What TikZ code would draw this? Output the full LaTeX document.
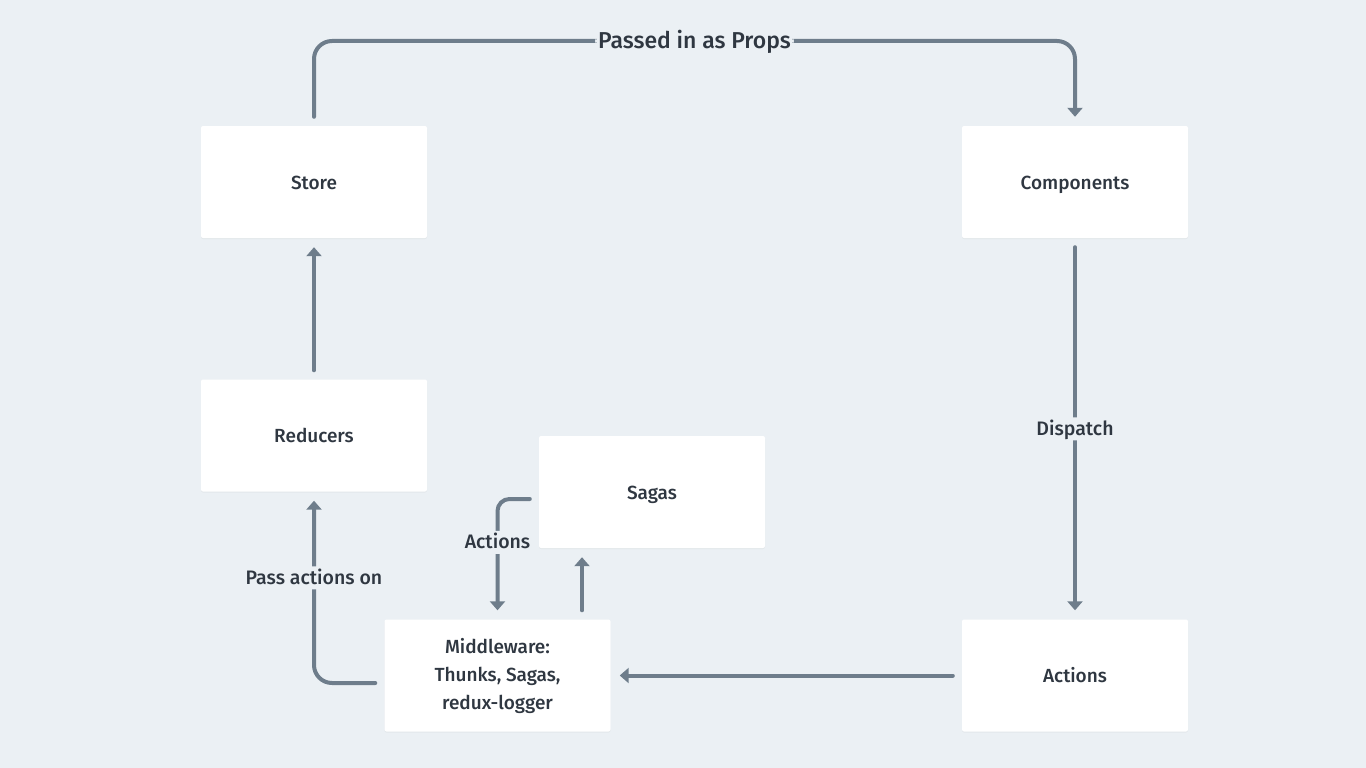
\documentclass[tikz,border=0pt]{standalone}
\usepackage{fontspec}
\setmainfont{Fira Sans}[UprightFont={* Medium}]
\usetikzlibrary{arrows.meta,shadows}
\definecolor{bgc}{HTML}{EBF0F4}
\definecolor{linec}{HTML}{6E7D8B}
\definecolor{txtc}{HTML}{2F3741}
\tikzset{
  box/.style={fill=white, minimum width=226pt, minimum height=112pt, rounded corners=2pt,
     inner sep=0pt, text=txtc, font=\fontsize{19}{28}\selectfont, align=center,
     drop shadow={shadow xshift=0pt, shadow yshift=-1pt, opacity=0.08}},
  one/.style={text height=15.5pt, text depth=1pt},
  conn/.style={draw=linec, line width=4pt, line cap=round, rounded corners=18pt,
     -{Triangle[width=15pt,length=9pt]}, shorten >=9pt, shorten <=9pt},
  lbl/.style={fill=bgc, text=txtc, inner sep=3pt, font=\fontsize{19.5}{24}\selectfont,
     text height=15pt, text depth=2pt}
}
\begin{document}
\begin{tikzpicture}[x=1pt,y=-1pt]
\useasboundingbox[fill=bgc] (0,0) rectangle (1366,768);
\node[box, one] (store) at (314,182) {Store};
\node[box, one] (comp) at (1075,182) {Components};
\node[box, one] (red) at (314,435.5) {Reducers};
\node[box, one] (sagas) at (652,492) {Sagas};
\node[box] (mw) at (497.5,675.5) {Middleware:\\Thunks, Sagas,\\redux-logger};
\node[box, one] (act) at (1075,675.5) {Actions};
\coordinate (topl) at (314,41);
\coordinate (topr) at (1075,41);
\draw[conn] (store.north) -- (topl) -- node[lbl, font=\fontsize{23}{28}\selectfont, text height=17.5pt, text depth=2pt]{Passed in as Props} (topr) -- (comp.north);
\draw[conn] (comp.south) -- node[lbl]{Dispatch} (act.north);
\draw[conn] (act.west) -- (mw.east);
\coordinate (mwl) at (314,683);
\draw[conn] ([yshift=-7.5pt]mw.west) -- (mwl) -- node[lbl, pos=0.55]{Pass actions on} (red.south);
\draw[conn] (red.north) -- (store.south);
\coordinate (sgl) at (497.5,499);
\draw[conn, rounded corners=12pt] ([yshift=-7pt]sagas.west) -- (sgl) -- node[lbl, pos=0.36]{Actions} (mw.north);
\draw[conn] (mw.north -| 582,0) -- (sagas.south -| 582,0);
\end{tikzpicture}
\end{document}
